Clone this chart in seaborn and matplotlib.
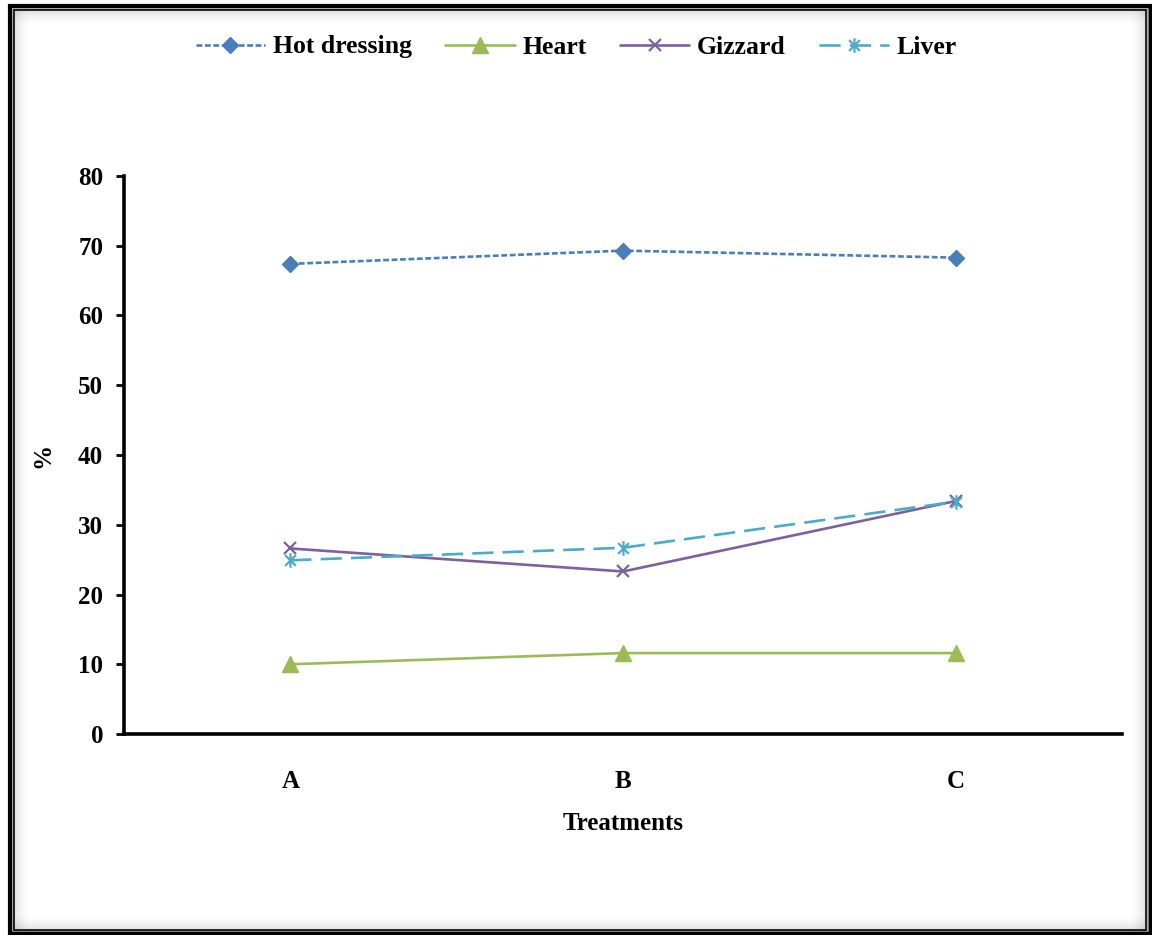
import numpy as np
import matplotlib
matplotlib.use("Agg")
import matplotlib.pyplot as plt
from matplotlib.path import Path
from matplotlib.patches import Rectangle
import seaborn as sns

categories = ["A", "B", "C"]
hot_dressing = [67.4, 69.3, 68.3]
heart = [10.0, 11.6, 11.6]
gizzard = [26.6, 23.3, 33.4]
liver = [24.9, 26.7, 33.3]
series_names = ["Hot dressing", "Heart", "Gizzard", "Liver"]
y_ticks = [0, 10, 20, 30, 40, 50, 60, 70, 80]

sns.set_theme(style="white")
plt.rcParams['font.family'] = ['Liberation Serif', 'DejaVu Serif']
plt.rcParams['font.weight'] = 'bold'

W, H = 1152, 935
fig = plt.figure(figsize=(W / 100, H / 100), dpi=100)
ax = fig.add_axes([124 / W, 1 - 734 / H, (1122 - 124) / W, (734 - 176) / H])

# asterisk marker (x with vertical bar)
ast = Path([(-1, -1), (1, 1), (-1, 1), (1, -1), (0, -1.35), (0, 1.35)],
           [Path.MOVETO, Path.LINETO, Path.MOVETO, Path.LINETO, Path.MOVETO, Path.LINETO])

styles = {
    "Hot dressing": dict(color="#4A7EBB", marker="D", markersize=8, dashes=(2.2, 1.0), mew=1.0),
    "Heart": dict(color="#9BBB59", marker="^", markersize=11, dashes=None, mew=1.0),
    "Gizzard": dict(color="#7D60A0", marker="x", markersize=9, dashes=None, mew=1.6),
    "Liver": dict(color="#4BACC6", marker=ast, markersize=10.5, dashes=(8, 3.5), mew=1.6),
}
data = {"Hot dressing": hot_dressing, "Heart": heart, "Gizzard": gizzard, "Liver": liver}

handles = []
for name in series_names:
    st = dict(styles[name])
    dashes = st.pop("dashes")
    n_before = len(ax.lines)
    sns.lineplot(x=categories, y=data[name], ax=ax, linewidth=1.9, legend=False,
                 marker=st["marker"], markersize=st["markersize"], color=st["color"],
                 markeredgecolor=st["color"], markerfacecolor=st["color"],
                 markeredgewidth=st["mew"])
    line = ax.lines[n_before]
    line.set_label(name)
    line.set_linestyle("-")
    if dashes:
        line.set_dashes(dashes)
    handles.append(line)

ax.set_xlim(-0.5, 2.5)
ax.set_ylim(0, 80)
ax.set_yticks(y_ticks)
ax.set_yticklabels([str(t) for t in y_ticks])
for s in ["top", "right"]:
    ax.spines[s].set_visible(False)
for s in ["left", "bottom"]:
    ax.spines[s].set_linewidth(2.6)
    ax.spines[s].set_color("black")
ax.tick_params(axis="y", which="major", direction="out", length=6, width=2, left=True,
               labelsize=18, pad=9, colors="black")
ax.tick_params(axis="x", length=0, labelsize=18, pad=26, colors="black")
for lab in ax.get_xticklabels() + ax.get_yticklabels():
    lab.set_fontweight("bold")
ax.set_xlabel("Treatments", fontsize=18, fontweight="bold", color="black")
ax.set_ylabel("%", fontsize=18, fontweight="bold", color="black")
ax.xaxis.label.set_va("center")
ax.yaxis.label.set_va("center")
ax.xaxis.set_label_coords(0.5, -(823 - 734) / 558)
ax.yaxis.set_label_coords((43 - 124) / 998, (734 - 455) / 558)
ax.grid(False)

leg = ax.legend(handles, series_names, ncol=4, frameon=False, loc="center",
                bbox_to_anchor=(0.5, 1 - 47 / H), bbox_transform=fig.transFigure,
                prop=dict(family="Liberation Serif", weight="bold", size=18.5),
                handlelength=2.7, handletextpad=0.3, columnspacing=1.3, numpoints=1)
for t in leg.get_texts():
    t.set_color("black")

# border frame with inset shadow
def px_rect(x0, y0, x1, y1, **kw):
    return Rectangle((x0 / W, 1 - y1 / H), (x1 - x0) / W, (y1 - y0) / H,
                     transform=fig.transFigure, fill=False, **kw)

x0, y0, x1, y1 = 15, 11, 1145, 929
n = 14
for i in range(n):
    a = 0.10 * (1 - i / n) ** 1.5
    kw = dict(transform=fig.transFigure, color="black", alpha=a, lw=0)
    fig.patches.append(Rectangle(((x1 - 1 - i) / W, 1 - y1 / H), 1 / W, (y1 - y0) / H, **kw))
    fig.patches.append(Rectangle(((x0 + i) / W, 1 - y1 / H), 1 / W, (y1 - y0) / H, **kw))
    fig.patches.append(Rectangle((x0 / W, 1 - (y1 - i) / H), (x1 - x0) / W, 1 / H, **kw))
    fig.patches.append(Rectangle((x0 / W, 1 - (y0 + 1 + i) / H), (x1 - x0) / W, 1 / H, **kw))
fig.patches.append(px_rect(10, 6, 1150, 933, edgecolor="black", linewidth=3.0))
fig.patches.append(px_rect(12.5, 8.5, 1147.5, 930.5, edgecolor="#9a9a9a", linewidth=1.2))
fig.patches.append(px_rect(14, 10, 1146, 929.5, edgecolor="black", linewidth=1.2))

fig.savefig("out.png", dpi=100)
